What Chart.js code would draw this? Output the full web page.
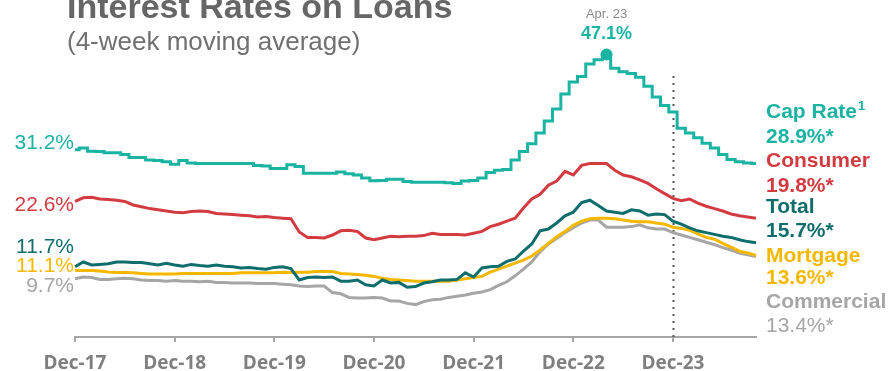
<!DOCTYPE html>
<html>
<head>
<meta charset="utf-8">
<title>Interest Rates on Loans</title>
<script src="https://cdn.jsdelivr.net/npm/chart.js@4"></script>
<style>
    body { margin: 0; background: #fff; }
    canvas { display: block; }
</style>
</head>
<body>
<canvas id="ratesChart" width="892" height="371"></canvas>
<script>
// x axis: one point per month starting Dec-17
const tickLabels = ['Dec-17', 'Dec-18', 'Dec-19', 'Dec-20', 'Dec-21', 'Dec-22', 'Dec-23'];
const monthsPerTick = 12;
const monthNames = ['Jan.', 'Feb.', 'Mar.', 'Apr.', 'May', 'Jun.', 'Jul.', 'Aug.', 'Sep.', 'Oct.', 'Nov.', 'Dec.'];

const seriesNames = ['Cap Rate', 'Consumer', 'Total', 'Mortgage', 'Commercial'];

const capRate = [
    31.2, 31.5, 30.95, 30.9, 30.7, 30.7, 30.4, 29.9, 29.9, 29.5,
    29.4, 29.2, 28.8, 29.4, 29.0, 28.9, 28.9, 28.9, 28.9, 28.9,
    28.9, 28.9, 28.6, 28.5, 28.1, 28.1, 28.7, 28.4, 27.3, 27.3,
    27.3, 27.3, 27.5, 27.2, 27.0, 26.5, 26.05, 26.1, 26.3, 26.3,
    25.9, 25.8, 25.8, 25.8, 25.8, 25.7, 25.6, 26.0, 26.1, 26.5,
    27.4, 27.8, 27.9, 29.5, 30.9, 32.2, 34.0, 36.0, 38.0, 40.5,
    42.5, 43.4, 45.5, 46.2, 47.1, 44.8, 44.2, 43.9, 43.3, 41.8,
    40.0, 38.6, 37.5, 34.8, 34.0, 33.2, 32.3, 31.5, 30.4, 29.6,
    29.2, 29.0, 28.9
];
const consumer = [
    22.6, 23.2, 23.3, 23.0, 22.9, 22.8, 22.6, 22.0, 21.7, 21.4,
    21.2, 21.0, 20.8, 20.7, 20.9, 21.0, 20.9, 20.6, 20.5, 20.4,
    20.3, 20.2, 20.0, 20.1, 19.9, 19.8, 19.7, 17.5, 16.6, 16.6,
    16.5, 17.0, 17.7, 17.8, 17.6, 16.5, 16.2, 16.5, 16.8, 16.7,
    16.8, 16.8, 16.9, 17.3, 17.1, 17.1, 17.1, 17.0, 17.3, 17.6,
    18.4, 18.8, 19.3, 19.8, 21.5, 23.0, 23.8, 25.3, 26.0, 27.6,
    27.0, 28.6, 28.9, 28.9, 28.9, 27.8, 27.0, 26.7, 26.2, 25.6,
    24.7, 23.9, 23.1, 22.7, 23.0, 22.3, 21.8, 21.4, 21.0, 20.5,
    20.2, 20.0, 19.8
];
const total = [
    11.7, 12.5, 12.0, 12.1, 12.2, 12.5, 12.5, 12.4, 12.4, 12.2,
    12.0, 12.3, 12.0, 11.8, 12.1, 11.9, 11.8, 12.0, 11.8, 11.7,
    11.5, 11.6, 11.4, 11.3, 11.6, 11.7, 11.4, 9.5, 9.9, 10.0,
    9.9, 10.0, 9.3, 9.3, 9.5, 8.7, 8.5, 9.5, 9.0, 9.1,
    8.3, 8.4, 9.0, 9.2, 9.5, 9.5, 9.6, 10.7, 10.0, 11.5,
    11.7, 11.8, 12.6, 13.0, 14.3, 15.5, 17.7, 18.0, 19.0, 20.2,
    20.8, 22.4, 22.8, 21.9, 21.0, 20.8, 20.6, 21.2, 21.0, 20.3,
    20.5, 20.4, 19.3, 18.8, 18.2, 17.7, 17.4, 17.1, 16.8, 16.6,
    16.2, 15.9, 15.7
];
const mortgage = [
    11.1, 11.1, 11.1, 11.0, 10.85, 10.75, 10.75, 10.7, 10.6, 10.5,
    10.5, 10.5, 10.5, 10.6, 10.6, 10.6, 10.6, 10.6, 10.6, 10.6,
    10.7, 10.7, 10.7, 10.7, 10.7, 10.8, 10.75, 10.8, 10.8, 10.9,
    10.9, 10.9, 10.6, 10.5, 10.4, 10.3, 10.1, 9.8, 9.6, 9.5,
    9.4, 9.3, 9.3, 9.3, 9.3, 9.3, 9.5, 9.7, 9.9, 10.1,
    10.8, 11.3, 11.8, 12.3, 12.8, 13.5, 14.5, 15.6, 16.7, 17.6,
    18.6, 19.3, 19.7, 19.8, 19.8, 19.7, 19.5, 19.3, 19.2, 19.2,
    19.0, 18.8, 18.3, 18.1, 17.8, 17.2, 16.6, 16.3, 15.6, 15.0,
    14.3, 14.0, 13.6
];
const commercial = [
    9.7, 10.0, 9.9, 9.6, 9.6, 9.7, 9.8, 9.7, 9.5, 9.4,
    9.4, 9.3, 9.4, 9.3, 9.3, 9.2, 9.3, 9.1, 9.1, 9.0,
    9.0, 9.0, 8.9, 8.9, 8.9, 8.8, 8.7, 8.5, 8.4, 8.5,
    8.5, 7.4, 7.2, 6.6, 6.5, 6.5, 6.6, 6.5, 6.0, 6.0,
    5.6, 5.4, 5.9, 6.2, 6.3, 6.6, 6.8, 7.0, 7.3, 7.5,
    7.9, 8.6, 9.2, 10.2, 11.3, 12.5, 14.2, 15.5, 16.4, 17.4,
    18.2, 19.0, 19.5, 19.5, 18.3, 18.3, 18.3, 18.4, 18.7, 18.2,
    18.0, 18.0, 17.4, 17.0, 16.6, 16.2, 15.8, 15.4, 14.9, 14.5,
    14.0, 13.7, 13.4
];

const allSeries = [capRate, consumer, total, mortgage, commercial];
const colors = ['#1bb3a2', '#d23c41', '#0f6d6c', '#f5b800', '#a6a6a6'];

// where the text sits around the plot (baselines, px)
const leftLabelY = [149, 211, 253, 272, 292];
const rightNameY = [118, 167, 213, 262, 308];
const rightValueY = [143, 192, 237, 284, 332];

const peakIndex = capRate.indexOf(Math.max(...capRate));
const cutoffMonth = 6 * monthsPerTick; // Dec-23

const toPoints = arr => arr.map((v, i) => ({ x: i, y: v }));

const textPlugin = {
    id: 'rateText',
    beforeDatasetsDraw(chart) {
        const { ctx, scales: { x, y }, chartArea } = chart;
        // dotted marker at Dec-23
        const px = Math.round(x.getPixelForValue(cutoffMonth)) + 0.5;
        ctx.save();
        ctx.strokeStyle = '#555';
        ctx.lineWidth = 2;
        ctx.setLineDash([2, 5]);
        ctx.beginPath();
        ctx.moveTo(px, y.getPixelForValue(43.5));
        ctx.lineTo(px, chartArea.bottom);
        ctx.stroke();
        ctx.restore();
    },
    afterDraw(chart) {
        const { ctx, scales: { x, y } } = chart;
        ctx.save();

        // title
        ctx.fillStyle = '#666';
        ctx.textAlign = 'left';
        ctx.font = 'bold 34px "Liberation Sans", Arial, sans-serif';
        ctx.fillText('Interest Rates on Loans', 67, 18);
        ctx.font = '26px "Liberation Sans", Arial, sans-serif';
        ctx.fillStyle = '#707070';
        ctx.fillText('(4-week moving average)', 67, 50);

        // starting values on the left
        ctx.textAlign = 'right';
        ctx.font = '21px "Liberation Sans", Arial, sans-serif';
        allSeries.forEach((s, i) => {
            ctx.fillStyle = colors[i];
            ctx.fillText(s[0].toFixed(1) + '%', 74, leftLabelY[i]);
        });

        // series names and latest values on the right
        ctx.textAlign = 'left';
        allSeries.forEach((s, i) => {
            ctx.fillStyle = colors[i];
            ctx.font = 'bold 21px "Liberation Sans", Arial, sans-serif';
            const name = seriesNames[i];
            ctx.fillText(name, 766, rightNameY[i]);
            if (i === 0) {
                const w = ctx.measureText(name).width;
                ctx.font = 'bold 13px "Liberation Sans", Arial, sans-serif';
                ctx.fillText('1', 766 + w + 1, rightNameY[i] - 8);
            }
            ctx.font = (i === 4 ? '' : 'bold ') + '21px "Liberation Sans", Arial, sans-serif';
            ctx.fillText(s[s.length - 1].toFixed(1) + '%*', 766, rightValueY[i]);
        });

        // peak callout
        const peakX = x.getPixelForValue(peakIndex);
        const peakY = y.getPixelForValue(capRate[peakIndex]);
        const mIdx = (11 + peakIndex) % 12;
        const yr = 17 + Math.floor((11 + peakIndex) / 12);
        ctx.textAlign = 'center';
        ctx.fillStyle = '#8a8a8a';
        ctx.font = '13px "Liberation Sans", Arial, sans-serif';
        ctx.fillText(monthNames[mIdx] + ' ' + yr, peakX, peakY - 36);
        ctx.fillStyle = colors[0];
        ctx.font = 'bold 18px "Liberation Sans", Arial, sans-serif';
        ctx.fillText(capRate[peakIndex].toFixed(1) + '%', peakX, peakY - 15);

        ctx.restore();
    }
};

const ctx = document.getElementById('ratesChart').getContext('2d');
new Chart(ctx, {
    type: 'line',
    data: {
        datasets: allSeries.map((s, i) => ({
            label: seriesNames[i],
            data: toPoints(s),
            borderColor: colors[i],
            backgroundColor: colors[i],
            borderWidth: 3,
            tension: 0,
            stepped: i === 0 ? 'middle' : false,
            pointRadius: c => (i === 0 && c.dataIndex === peakIndex) ? 4.5 : 0,
            pointHoverRadius: 0,
            clip: false
        }))
    },
    options: {
        responsive: false,
        animation: false,
        events: [],
        layout: { padding: { left: 75, right: 136, top: 37, bottom: 0 } },
        plugins: {
            legend: { display: false },
            tooltip: { enabled: false }
        },
        scales: {
            x: {
                type: 'linear',
                min: 0,
                max: capRate.length - 1,
                afterBuildTicks: scale => {
                    scale.ticks = scale.ticks.filter(t => t.value % monthsPerTick === 0);
                },
                afterFit: scale => { scale.height = 34; },
                ticks: {
                    stepSize: monthsPerTick,
                    autoSkip: false,
                    maxRotation: 0,
                    padding: 10,
                    color: '#7f7f7f',
                    font: { family: '"Open Sans", sans-serif', size: 19, weight: 'bold' },
                    callback: v => tickLabels[v / monthsPerTick]
                },
                grid: {
                    drawOnChartArea: false,
                    drawTicks: true,
                    tickLength: 5,
                    color: '#a6a6a6',
                    lineWidth: 2
                },
                border: { display: true, color: '#a6a6a6', width: 2 }
            },
            y: {
                display: false,
                min: 0,
                max: 50
            }
        }
    },
    plugins: [textPlugin]
});
</script>
</body>
</html>
